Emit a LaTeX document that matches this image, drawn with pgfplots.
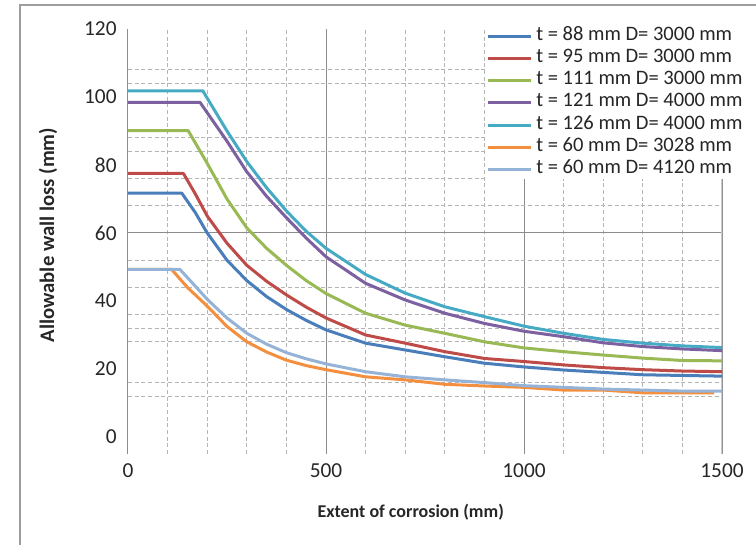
\documentclass[border=0pt]{standalone}
\usepackage{fontspec}
\setmainfont{Carlito}
\usepackage{pgfplots}
\pgfplotsset{compat=1.18}
\definecolor{s1}{HTML}{4A7EBB}
\definecolor{s2}{HTML}{BE4B48}
\definecolor{s3}{HTML}{98B954}
\definecolor{s4}{HTML}{7D60A0}
\definecolor{s5}{HTML}{46AAC5}
\definecolor{s6}{HTML}{F38F3F}
\definecolor{s7}{HTML}{95B3D7}
\definecolor{gridsolid}{HTML}{8C8C8C}
\definecolor{griddash}{HTML}{B4B4B4}
\definecolor{edgeblue}{HTML}{B9CDE5}
\definecolor{bordergray}{HTML}{9E9E9E}
\definecolor{textgray}{HTML}{262626}
\begin{document}
\begin{tikzpicture}
\path[use as bounding box] (-96pt,-68.25pt) rectangle (471pt,340.5pt);
\draw[bordergray, line width=1.5pt] (-81pt,-68.25pt) -- (-81pt,336.75pt) -- (471pt,336.75pt);
\begin{axis}[
    at={(0pt,0pt)}, anchor=south west,
    scale only axis,
    width=445.5pt, height=318.75pt,
    xmin=0, xmax=1500, ymin=-5, ymax=120,
    axis line style={draw=none},
    major tick length=0pt, minor tick length=0pt,
    xtick={0,500,1000,1500},
    ytick={0,20,...,120},
    minor x tick num=4,
    xmajorgrids, xminorgrids,
    major grid style={gridsolid, line width=0.75pt},
    minor grid style={griddash, dash pattern=on 3pt off 2pt, line width=0.6pt},
    extra y ticks={12,16,28,32,36,44,52,68,76,84,88,104,108},
    extra y tick labels={},
    extra y tick style={grid=major, major grid style={griddash, dash pattern=on 3pt off 2pt, line width=0.6pt}},
    tick label style={font=\fontsize{16}{19}\selectfont, text=textgray},
    /pgf/number format/assume math mode=true,
    /pgf/number format/set thousands separator={},
    yticklabel style={xshift=-5pt},
    xticklabel style={yshift=-4pt},
    xlabel={Extent of corrosion (mm)},
    ylabel={Allowable wall loss (mm)},
    xlabel style={at={(axis description cs:0.476,-0.1365)}, anchor=center, font=\bfseries\fontsize{13.5}{16}\selectfont, text=textgray},
    ylabel style={at={(axis description cs:-0.1347,0.515)}, anchor=center, font=\bfseries\fontsize{15.5}{18}\selectfont, text=textgray},
    legend style={at={(axis description cs:0.601,1.006)}, anchor=north west, draw=none, fill=white,
        inner sep=1pt, row sep=4.7pt, column sep=3pt,
        font=\fontsize{15.4}{18}\selectfont, text=textgray,
        nodes={inner sep=0pt, text height=9pt, text depth=3pt}},
    legend cell align=left,
    legend image code/.code={\draw[#1, line width=2.25pt] (0pt,0pt) -- (32pt,0pt);},
    no markers,
    every axis plot/.append style={line width=2.25pt, line join=round},
]
\draw[gridsolid, line width=0.75pt] ([xshift=-4pt]axis cs:0,60) -- (axis cs:1500,60);
\draw[edgeblue, line width=1pt] (axis cs:1500,-5) -- (axis cs:1500,120);

\addplot[s1] coordinates {(0,71.7) (136,71.7) (170,66) (200,60) (250,52) (300,46) (350,41.3) (400,37.5) (450,34.3) (500,31.5) (600,27.6) (700,25.6) (800,23.6) (900,21.7) (1000,20.6) (1100,19.7) (1200,19.0) (1300,18.3) (1400,18.1) (1500,17.9)};
\addlegendentry{t = 88 mm D= 3000 mm}
\addplot[s2] coordinates {(0,77.5) (140,77.5) (170,71.5) (200,65) (250,57) (300,50.5) (350,45.8) (400,41.8) (450,38.2) (500,35.0) (600,30.0) (700,27.6) (800,25.1) (900,23.1) (1000,22.2) (1100,21.2) (1200,20.4) (1300,19.8) (1400,19.4) (1500,19.2)};
\addlegendentry{t = 95 mm D= 3000 mm}
\addplot[s3] coordinates {(0,90.1) (152,90.1) (200,80.5) (250,70) (300,61.5) (350,55.5) (400,50.5) (450,46.0) (500,42.2) (600,36.4) (700,32.9) (800,30.5) (900,28.0) (1000,26.2) (1100,25.1) (1200,24.1) (1300,23.2) (1400,22.5) (1500,22.4)};
\addlegendentry{t = 111 mm D= 3000 mm}
\addplot[s4] coordinates {(0,98.4) (182,98.4) (250,87) (300,78) (350,70.8) (400,64.5) (450,58.5) (500,53.0) (600,45.2) (700,40.3) (800,36.4) (900,33.4) (1000,31.1) (1100,29.5) (1200,27.7) (1300,26.6) (1400,25.9) (1500,25.4)};
\addlegendentry{t = 121 mm D= 4000 mm}
\addplot[s5] coordinates {(0,101.8) (189,101.8) (250,90) (300,81) (350,73.3) (400,66.5) (450,60.5) (500,55.5) (600,47.8) (700,42.3) (800,38.3) (900,35.4) (1000,32.6) (1100,30.5) (1200,28.7) (1300,27.6) (1400,26.8) (1500,26.3)};
\addlegendentry{t = 126 mm D= 4000 mm}
\addplot[s6] coordinates {(0,49.3) (110,49.3) (150,44) (200,38.5) (250,32.5) (300,28.0) (350,25.0) (400,22.6) (450,21.0) (500,19.8) (600,17.7) (700,16.8) (800,15.5) (900,15.0) (1000,14.6) (1100,13.8) (1200,13.8) (1300,13.0) (1400,13.0) (1480,13.0)};
\addlegendentry{t = 60 mm D= 3028 mm}
\addplot[s7] coordinates {(0,49.3) (131,49.3) (165,45) (200,40.5) (250,35) (300,30.5) (350,27.3) (400,24.8) (450,23.0) (500,21.5) (600,19.2) (700,17.7) (800,16.8) (900,16.0) (1000,15.1) (1100,14.6) (1200,14.1) (1300,13.8) (1400,13.5) (1500,13.5)};
\addlegendentry{t = 60 mm D= 4120 mm}
\end{axis}
\end{tikzpicture}
\end{document}
